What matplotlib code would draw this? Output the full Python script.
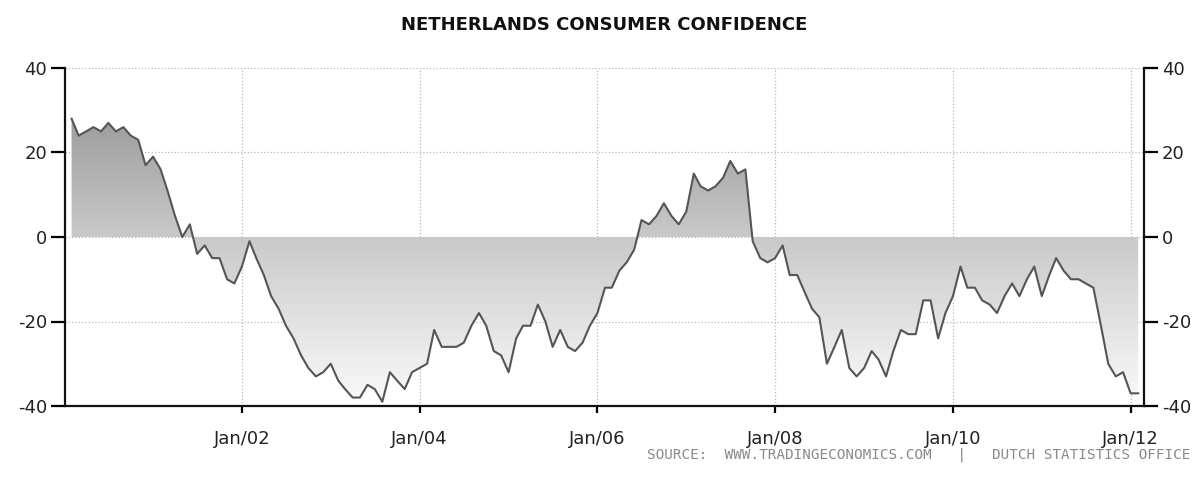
import numpy as np
import pandas as pd
import matplotlib
matplotlib.use("Agg")
import matplotlib.pyplot as plt
import matplotlib.dates as mdates
from matplotlib.colors import LinearSegmentedColormap
from matplotlib.patches import Polygon

plt.rcParams["axes.unicode_minus"] = False

# monthly readings, Feb 2000 .. Feb 2012
start_month = "2000-02-01"
confidence = [
    # 2000 (Feb-Dec)
    28, 24, 25, 26, 25, 27, 25, 26, 24, 23, 17,
    # 2001
    19, 16, 11, 5, 0, 3, -4, -2, -5, -5, -10, -11,
    # 2002
    -7, -1, -5, -9, -14, -17, -21, -24, -28, -31, -33, -32,
    # 2003
    -30, -34, -36, -38, -38, -35, -36, -39, -32, -34, -36, -32,
    # 2004
    -31, -30, -22, -26, -26, -26, -25, -21, -18, -21, -27, -28,
    # 2005
    -32, -24, -21, -21, -16, -20, -26, -22, -26, -27, -25, -21,
    # 2006
    -18, -12, -12, -8, -6, -3, 4, 3, 5, 8, 5, 3,
    # 2007
    6, 15, 12, 11, 12, 14, 18, 15, 16, -1, -5, -6,
    # 2008
    -5, -2, -9, -9, -13, -17, -19, -30, -26, -22, -31, -33,
    # 2009
    -31, -27, -29, -33, -27, -22, -23, -23, -15, -15, -24, -18,
    # 2010
    -14, -7, -12, -12, -15, -16, -18, -14, -11, -14, -10, -7,
    # 2011
    -14, -9, -5, -8, -10, -10, -11, -12, -21, -30, -33, -32,
    # 2012 (Jan-Feb)
    -37, -37,
]
months = pd.date_range(start_month, periods=len(confidence), freq="MS")
y_ticks = [-40, -20, 0, 20, 40]

title = "NETHERLANDS CONSUMER CONFIDENCE"
source = "SOURCE:  WWW.TRADINGECONOMICS.COM   |   DUTCH STATISTICS OFFICE"

fig = plt.figure(figsize=(12.01, 4.88), dpi=100)
ax = fig.add_axes([65 / 1201, 82 / 488, 1079 / 1201, 338 / 488])

ax.plot(months, confidence, color="#555555", linewidth=1.5, zorder=3)

# gradient fill between the series and zero
xn = mdates.date2num(months)
x0 = mdates.date2num(pd.Timestamp("2000-01-05"))
x1 = mdates.date2num(pd.Timestamp("2012-02-25"))
cmap = LinearSegmentedColormap.from_list(
    "fade", [(0.0, "#fbfbfb"), (0.5, "#c9c9c9"), (1.0, "#8a8a8a")])
grad = np.linspace(40, -40, 256).reshape(-1, 1)
im = ax.imshow(grad, extent=[x0, x1, -40, 40], aspect="auto", cmap=cmap,
               vmin=-40, vmax=40, origin="upper", zorder=1)
verts = [(xn[0], 0)] + list(zip(xn, confidence)) + [(xn[-1], 0)]
clip = Polygon(verts, closed=True, facecolor="none", edgecolor="none",
               transform=ax.transData)
ax.add_patch(clip)
im.set_clip_path(clip)

ax.set_xlim(x0, x1)
ax.set_ylim(-40, 40)
ax.set_yticks(y_ticks)
ax.xaxis.set_major_locator(mdates.YearLocator(2, month=1, day=1))
ax.xaxis.set_major_formatter(mdates.DateFormatter("%b/%y"))

ax.grid(True, linestyle=":", color="#b8b8b8", linewidth=0.9, zorder=0)
ax.set_axisbelow(True)

ax.spines["top"].set_visible(False)
for s in ["left", "right", "bottom"]:
    ax.spines[s].set_linewidth(1.6)
    ax.spines[s].set_color("#111111")

ax.tick_params(axis="y", which="major", left=True, right=True,
               labelleft=True, labelright=True, length=10, width=1.6,
               labelsize=13, labelcolor="#222222", pad=3)
ax.tick_params(axis="x", which="major", length=5, width=1.6,
               labelsize=13, labelcolor="#222222", pad=12)

fig.text(0.503, 1 - 25 / 488, title, ha="center", va="center",
         fontsize=13, fontweight="bold", color="#111111")
fig.text(1190 / 1201, 1 - 455 / 488, source, ha="right", va="center",
         fontsize=10.3, family="DejaVu Sans Mono", color="#8a8a8a")

fig.savefig("out.png", dpi=100)
